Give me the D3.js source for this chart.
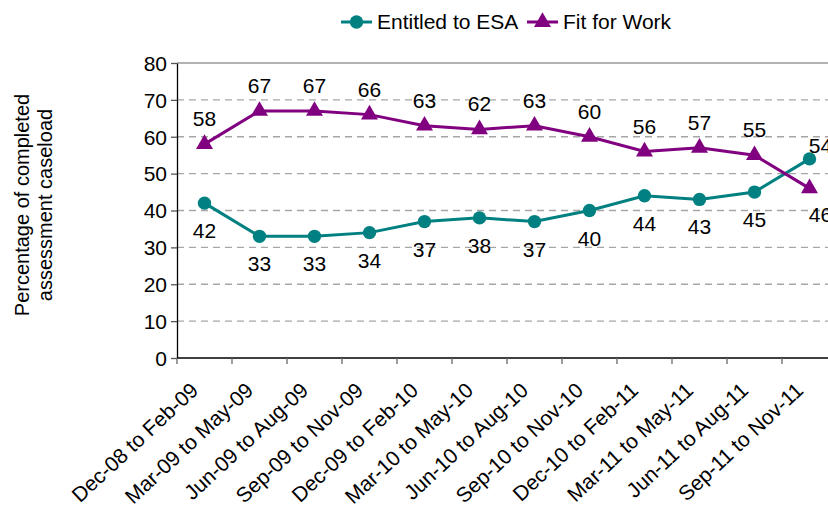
<!DOCTYPE html>
<html>
<head>
<meta charset="utf-8">
<script src="https://cdn.jsdelivr.net/npm/d3@7"></script>
<style>
  body { margin: 0; background: #fff; }
  svg { font-family: "Liberation Sans", Arial, sans-serif; display: block; }
</style>
</head>
<body>
<div class="vis-lineChart"></div>
<script>
var categories = ["Dec-08 to Feb-09", "Mar-09 to May-09", "Jun-09 to Aug-09", "Sep-09 to Nov-09",
                  "Dec-09 to Feb-10", "Mar-10 to May-10", "Jun-10 to Aug-10", "Sep-10 to Nov-10",
                  "Dec-10 to Feb-11", "Mar-11 to May-11", "Jun-11 to Aug-11", "Sep-11 to Nov-11"];
var entitled = [42, 33, 33, 34, 37, 38, 37, 40, 44, 43, 45, 54];
var fitForWork = [58, 67, 67, 66, 63, 62, 63, 60, 56, 57, 55, 46];
var yTicks = [0, 10, 20, 30, 40, 50, 60, 70, 80];
var seriesNames = ["Entitled to ESA", "Fit for Work"];

var W = 828, H = 509;
var margin = {top: 63, right: -9, bottom: 151, left: 177},
    width = W - margin.left - margin.right,
    height = H - margin.top - margin.bottom;

var teal = "#008080", purple = "#800080";
var fs = "21px";

var svg = d3.select('.vis-lineChart').append('svg')
    .attr("width", W)
    .attr("height", H);

var g = svg.append("g")
    .attr("transform", "translate(" + margin.left + "," + margin.top + ")");

var x = d3.scaleBand().domain(categories).range([0, width]).padding(0);
var y = d3.scaleLinear().domain([0, 80]).range([height, 0]);

// gridlines (top one is the plot border, solid)
g.selectAll('.grid')
    .data(yTicks.filter(function(d){ return d > 0; }))
    .enter()
    .append('line')
    .attr('x1', 0).attr('x2', width)
    .attr('y1', function(d){ return y(d); })
    .attr('y2', function(d){ return y(d); })
    .attr('stroke', function(d){ return d === 80 ? '#999' : '#a6a6a6'; })
    .attr('stroke-width', 1.3)
    .attr('stroke-dasharray', function(d){ return d === 80 ? null : '7,5'; });

// y axis
var yAxis = g.append("g")
    .call(d3.axisLeft(y).tickValues(yTicks).tickSize(6).tickPadding(4).tickSizeOuter(0));
yAxis.select(".domain").attr("stroke", "#000").attr("stroke-width", 1.3);
yAxis.selectAll(".tick line").attr("stroke", "#555").attr("stroke-width", 1.3);
yAxis.selectAll("text").style("font-size", fs).attr("fill", "#000").attr("dy", "0.35em");

// x axis, ticks sit between categories
var xAxis = g.append("g").attr("transform", "translate(0," + height + ")");
xAxis.append("line")
    .attr("x1", 0).attr("x2", width)
    .attr("stroke", "#000").attr("stroke-width", 1.3);
xAxis.selectAll(".xtick")
    .data(categories.concat(["end"]))
    .enter()
    .append("line")
    .attr("x1", function(d, i){ return i * x.bandwidth(); })
    .attr("x2", function(d, i){ return i * x.bandwidth(); })
    .attr("y1", 0).attr("y2", 6)
    .attr("stroke", "#666").attr("stroke-width", 1.3);
xAxis.selectAll(".xlabel")
    .data(categories)
    .enter()
    .append("text")
    .attr("text-anchor", "end")
    .attr("transform", function(d){
        return "translate(" + (x(d) + x.bandwidth() / 2 - 5) + ",34) rotate(-43)";
    })
    .style("font-size", fs)
    .text(function(d){ return d; });

// y title
svg.append("text")
    .attr("transform", "translate(29,205) rotate(-90)")
    .attr("text-anchor", "middle")
    .style("font-size", "20px")
    .selectAll("tspan")
    .data(["Percentage of completed", "assessment caseload"])
    .enter()
    .append("tspan")
    .attr("x", 0)
    .attr("dy", function(d, i){ return i === 0 ? 0 : "1.15em"; })
    .text(function(d){ return d; });

var line = d3.line()
    .x(function(d, i){ return x(categories[i]) + x.bandwidth() / 2; })
    .y(function(d){ return y(d); });

function drawSeries(values, color, marker, above) {
    g.append("path")
        .datum(values)
        .attr("fill", "none")
        .attr("stroke", color)
        .attr("stroke-width", 3)
        .attr("d", line);

    g.selectAll(null)
        .data(values)
        .enter()
        .append("path")
        .attr("transform", function(d, i){
            return "translate(" + (x(categories[i]) + x.bandwidth() / 2) + "," + y(d) + ")";
        })
        .attr("d", marker)
        .attr("fill", color);

    g.selectAll(null)
        .data(values)
        .enter()
        .append("text")
        .attr("text-anchor", "middle")
        .attr("x", function(d, i){
            var cx = x(categories[i]) + x.bandwidth() / 2;
            return i === values.length - 1 ? cx + 11 : cx;
        })
        .attr("y", function(d, i){
            var last = i === values.length - 1;
            if (last && color === teal) return y(d) - 6;
            if (last) return y(d) + 34;
            return above ? y(d) - 18 : y(d) + 35;
        })
        .style("font-size", fs)
        .text(function(d){ return d; });
}

var circleSym = d3.symbol().type(d3.symbolCircle).size(140)();
var triSym = d3.symbol().type(d3.symbolTriangle).size(125)();

drawSeries(entitled, teal, circleSym, false);
drawSeries(fitForWork, purple, triSym, true);

// legend
var legend = svg.append("g").attr("transform", "translate(341,22)");
var legItems = [{name: seriesNames[0], color: teal, sym: circleSym, x: 0},
                {name: seriesNames[1], color: purple, sym: triSym, x: 186}];
var li = legend.selectAll("g")
    .data(legItems)
    .enter()
    .append("g")
    .attr("transform", function(d){ return "translate(" + d.x + ",0)"; });
li.append("line").attr("x1", 0).attr("x2", 31)
    .attr("stroke", function(d){ return d.color; }).attr("stroke-width", 3);
li.append("path").attr("transform", "translate(15.5,0)")
    .attr("d", function(d){ return d.sym; })
    .attr("fill", function(d){ return d.color; });
li.append("text").attr("x", 36).attr("dy", "0.35em")
    .style("font-size", fs)
    .text(function(d){ return d.name; });
</script>
</body>
</html>
